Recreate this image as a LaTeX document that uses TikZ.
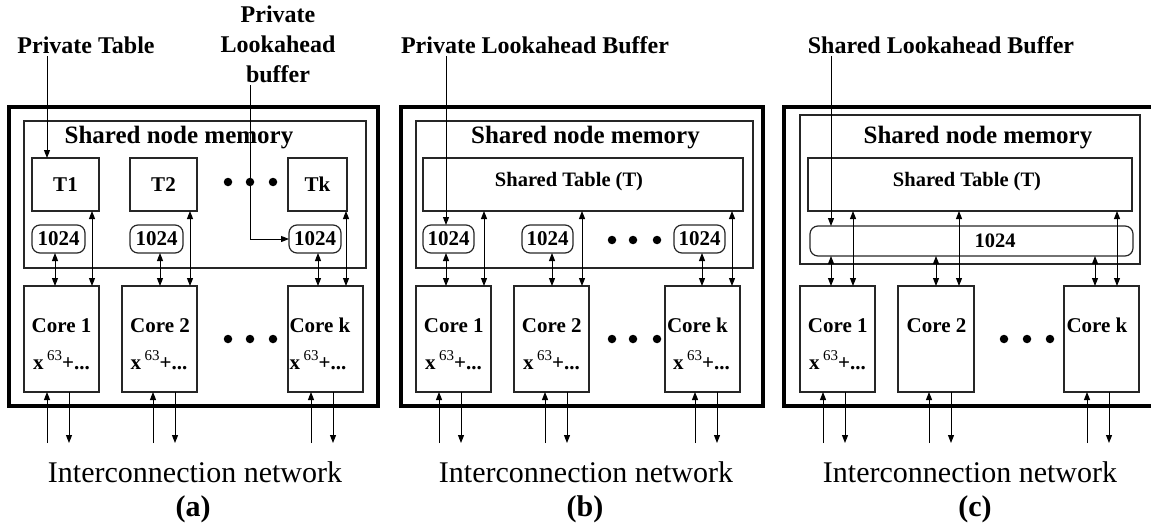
\documentclass[tikz,border=0pt]{standalone}
\usepackage{fontspec}
\setmainfont{Liberation Serif}
\usetikzlibrary{arrows.meta}

\tikzset{
  frame/.style={draw, line width=3.5pt, inner sep=0pt, outer sep=0pt},
  membox/.style={draw=black!85, line width=1.2pt, inner sep=0pt, outer sep=0pt},
  tbox/.style={membox, font=\fontsize{21}{24}\bfseries},
  bufbox/.style={membox, rounded corners=8pt, font=\fontsize{21}{24}\bfseries},
  lbl/.style={font=\fontsize{24}{30}\bfseries, align=center, inner sep=3pt},
  ttl/.style={font=\fontsize{25}{30}\bfseries, anchor=base, inner sep=0pt},
  tabtxt/.style={font=\fontsize{20.5}{24}\bfseries, inner sep=0pt},
  ctxt/.style={font=\fontsize{21}{24}\bfseries, anchor=base, inner sep=0pt},
  net/.style={font=\fontsize{30}{36}\selectfont, anchor=base, inner sep=0pt},
  panelcap/.style={font=\fontsize{30}{36}\bfseries, anchor=base, inner sep=0pt},
  dot/.style={circle, fill, inner sep=0pt, minimum size=8.5pt},
  link/.style={line width=1pt, -{Triangle[length=8pt,width=6pt]}},
  dlink/.style={line width=1pt, {Triangle[length=8pt,width=6pt]}-{Triangle[length=8pt,width=6pt]}},
}

% box from (x1,y1) to (x2,y2): style, name, x1, y1, x2, y2, text
\newcommand\rbox[7]{\node[#1, minimum width={(#5)-(#3)}, minimum height={(#6)-(#4)}]
  (#2) at ({((#3)+(#5))/2},{((#4)+(#6))/2}) {#7};}
% links between the memory side and a core: buffer, table, core, x of buffer link, x of table link
\newcommand\memlinks[5]{%
  \draw[dlink] (#4,0 |- #1.south) -- (#4,0 |- #3.north);
  \draw[dlink] (#5,0 |- #2.south) -- (#5,0 |- #3.north);}
% links between a core and the network: core, x in, x out
\newcommand\netlinks[3]{%
  \coordinate (#1-in) at (#2,443);
  \coordinate (#1-out) at (#3,443);
  \draw[link] (#1-in) -- (#1-in |- #1.south);
  \draw[link] (#1-out |- #1.south) -- (#1-out);}
\newcommand\polyterm{x\,\raisebox{0.42em}{\fontsize{15}{16}\mdseries 63}+...}

\begin{document}
\begin{tikzpicture}[x=1pt, y=-1pt]
\useasboundingbox (0,0) rectangle (1151,527);

% ---------------- (a) private tables, private buffers ----------------
\rbox{frame}{a-frame}{9}{107}{378}{406}{}
\rbox{membox}{a-mem}{24}{121}{366}{268}{}
\node[ttl] (a-ttl) at (179,143) {Shared node memory};
\rbox{tbox}{a-t1}{32}{158}{99}{211}{T1}
\rbox{tbox}{a-t2}{130}{158}{197}{211}{T2}
\rbox{tbox}{a-tk}{288}{158}{347}{211}{Tk}
\node[dot] (a-td1) at (228,182) {};
\node[dot] (a-td2) at (250,182) {};
\node[dot] (a-td3) at (273,182) {};
\rbox{bufbox}{a-b1}{32}{225}{85}{253}{1024}
\rbox{bufbox}{a-b2}{130}{225}{183}{253}{1024}
\rbox{bufbox}{a-b3}{289}{225}{341}{253}{1024}
\rbox{membox}{a-c1}{24}{286}{99}{392}{}
\rbox{membox}{a-c2}{122}{286}{197}{392}{}
\rbox{membox}{a-ck}{288}{286}{363}{392}{}
\node[ctxt] (a-c1n) at (61.5,332) {Core 1};
\node[ctxt] (a-c1p) at (61.5,369) {\polyterm};
\node[ctxt] (a-c2n) at (160,332) {Core 2};
\node[ctxt] (a-c2p) at (159,369) {\polyterm};
\node[ctxt] (a-ckn) at (320,332) {Core k};
\node[ctxt] (a-ckp) at (318,369) {\polyterm};
\node[dot] (a-cd1) at (228,339) {};
\node[dot] (a-cd2) at (250,339) {};
\node[dot] (a-cd3) at (273,339) {};
\memlinks{a-b1}{a-t1}{a-c1}{55}{92}
\memlinks{a-b2}{a-t2}{a-c2}{160}{190}
\memlinks{a-b3}{a-tk}{a-ck}{318}{346}
\netlinks{a-c1}{47}{69}
\netlinks{a-c2}{153}{175}
\netlinks{a-ck}{311}{333}
\node[lbl, anchor=base] (a-ptl) at (86,53) {Private Table};
\draw[link] (47,0 |- a-ptl.south) -- (47,0 |- a-t1.north);
% three-line label: the base anchor sits on its last line
\node[lbl, anchor=base] (a-plb) at (278,82) {Private\\Lookahead\\buffer};
\draw[link] (250,0 |- a-plb.south) |- (a-b3.west);
\node[net] (a-net) at (195,482) {Interconnection network};
\node[panelcap] (a-cap) at (193,516) {(a)};

% ---------------- (b) shared table, private buffers ----------------
\rbox{frame}{b-frame}{401}{107}{763}{406}{}
\rbox{membox}{b-mem}{416}{121}{753}{268}{}
\node[ttl] (b-ttl) at (585.5,143) {Shared node memory};
\rbox{membox}{b-tab}{423}{158}{743}{211}{}
\node[tabtxt] (b-tabt) at (569,182) {Shared Table (T)};
\rbox{bufbox}{b-b1}{423}{225}{474}{253}{1024}
\rbox{bufbox}{b-b2}{522}{225}{573}{253}{1024}
\rbox{bufbox}{b-b3}{674}{225}{725}{253}{1024}
\node[dot] (b-bd1) at (612,240) {};
\node[dot] (b-bd2) at (633,240) {};
\node[dot] (b-bd3) at (657,240) {};
\rbox{membox}{b-c1}{416}{286}{491}{392}{}
\rbox{membox}{b-c2}{514}{286}{589}{392}{}
\rbox{membox}{b-ck}{665}{286}{740}{392}{}
\node[ctxt] (b-c1n) at (453.8,332) {Core 1};
\node[ctxt] (b-c1p) at (453.5,369) {\polyterm};
\node[ctxt] (b-c2n) at (551.8,332) {Core 2};
\node[ctxt] (b-c2p) at (551.5,369) {\polyterm};
\node[ctxt] (b-ckn) at (697.5,332) {Core k};
\node[ctxt] (b-ckp) at (701.5,369) {\polyterm};
\node[dot] (b-cd1) at (612,339) {};
\node[dot] (b-cd2) at (633,339) {};
\node[dot] (b-cd3) at (657,339) {};
\memlinks{b-b1}{b-tab}{b-c1}{446}{484}
\memlinks{b-b2}{b-tab}{b-c2}{552}{582}
\memlinks{b-b3}{b-tab}{b-ck}{702}{732}
\netlinks{b-c1}{439}{461}
\netlinks{b-c2}{545}{567}
\netlinks{b-ck}{695}{717}
\node[lbl, anchor=base] (b-plb) at (535,53) {Private Lookahead Buffer};
\draw[link] (446,0 |- b-plb.south) -- (446,0 |- b-b1.north);
\node[net] (b-net) at (586,482) {Interconnection network};
\node[panelcap] (b-cap) at (585,516) {(b)};

% ---------------- (c) shared table, shared buffer ----------------
\rbox{frame}{c-frame}{784}{107}{1170}{406}{}
\rbox{membox}{c-mem}{800}{115}{1140}{264}{}
\node[ttl] (c-ttl) at (978,143) {Shared node memory};
\rbox{membox}{c-tab}{808}{158}{1132}{211}{}
\node[tabtxt] (c-tabt) at (967,182) {Shared Table (T)};
\rbox{bufbox}{c-buf}{810}{226}{1133}{256}{}
\node[tabtxt] (c-buft) at (995,241) {1024};
\rbox{membox}{c-c1}{800}{286}{875}{392}{}
\rbox{membox}{c-c2}{898}{286}{974}{392}{}
\rbox{membox}{c-ck}{1064}{286}{1139}{392}{}
\node[ctxt] (c-c1n) at (837.8,332) {Core 1};
\node[ctxt] (c-c1p) at (837.5,369) {\polyterm};
\node[ctxt] (c-c2n) at (936.5,332) {Core 2};
\node[ctxt] (c-ckn) at (1097,332) {Core k};
\node[dot] (c-cd1) at (1004,339) {};
\node[dot] (c-cd2) at (1027,339) {};
\node[dot] (c-cd3) at (1050,339) {};
\memlinks{c-buf}{c-tab}{c-c1}{831}{853}
\memlinks{c-buf}{c-tab}{c-c2}{936}{959}
\memlinks{c-buf}{c-tab}{c-ck}{1095}{1117}
\netlinks{c-c1}{823}{845}
\netlinks{c-c2}{929}{951}
\netlinks{c-ck}{1087}{1109}
\node[lbl, anchor=base] (c-slb) at (941,53) {Shared Lookahead Buffer};
\draw[link] (831,0 |- c-slb.south) -- (831,0 |- c-buf.north);
\node[net] (c-net) at (970,482) {Interconnection network};
\node[panelcap] (c-cap) at (975,516) {(c)};
\end{tikzpicture}
\end{document}
